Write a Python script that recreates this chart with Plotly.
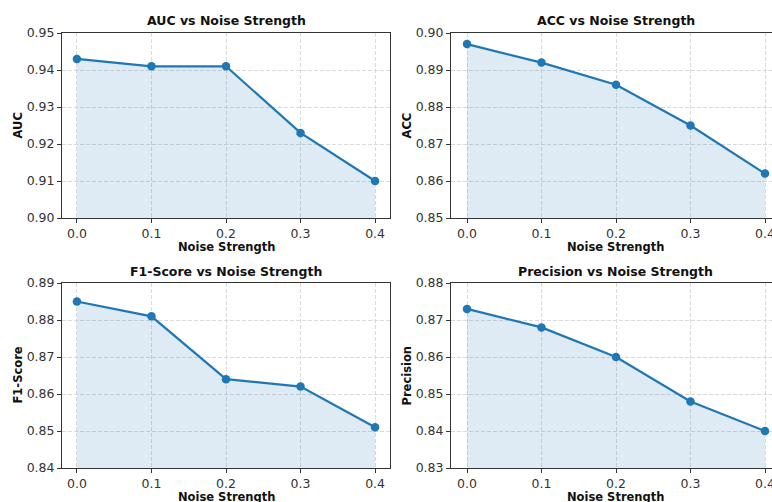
import plotly.graph_objects as go

noise = [0.0, 0.1, 0.2, 0.3, 0.4]
auc = [0.943, 0.941, 0.941, 0.923, 0.910]
acc = [0.897, 0.892, 0.886, 0.875, 0.862]
f1 = [0.885, 0.881, 0.864, 0.862, 0.851]
precision = [0.873, 0.868, 0.860, 0.848, 0.840]

panels = [
    ("AUC", auc, [0.90, 0.95]),
    ("ACC", acc, [0.85, 0.90]),
    ("F1-Score", f1, [0.84, 0.89]),
    ("Precision", precision, [0.83, 0.88]),
]
xticks = [0.0, 0.1, 0.2, 0.3, 0.4]

W, H = 772, 502
# pixel boxes (left, right, top, bottom)
boxes = [
    (62, 390, 33, 218),
    (451, 772, 33, 218),
    (62, 390, 283, 468),
    (451, 772, 283, 468),
]
xranges = [[-0.02, 0.42], [-0.0215, 0.4094], [-0.02, 0.42], [-0.0215, 0.4094]]

LINE = "#1f77b4"
FILL = "rgba(31,119,180,0.15)"
FONT = "DejaVu Sans"

fig = go.Figure()
annotations = []
for i, (name, vals, yr) in enumerate(panels):
    n = i + 1
    xa = "x" if n == 1 else f"x{n}"
    ya = "y" if n == 1 else f"y{n}"
    l, r, t, b = boxes[i]
    fig.add_trace(go.Scatter(
        x=noise, y=[yr[0]] * len(noise), xaxis=xa, yaxis=ya,
        mode="lines", line=dict(width=0, color=FILL), hoverinfo="skip", showlegend=False))
    fig.add_trace(go.Scatter(
        x=noise, y=vals, xaxis=xa, yaxis=ya, mode="lines+markers",
        line=dict(color=LINE, width=2.2), marker=dict(color=LINE, size=8.5),
        fill="tonexty", fillcolor=FILL, showlegend=False))
    right_cut = (r >= W)
    common = dict(showline=True, linecolor="#333", linewidth=1, ticks="outside",
                  ticklen=4, tickcolor="#333", showgrid=True, gridcolor="#dadada",
                  griddash="4px,2px", gridwidth=1, zeroline=False, automargin=False,
                  ticklabeloverflow="allow",
                  tickfont=dict(family=FONT, size=12.5, color="#333"))
    fig.layout[("xaxis" if n == 1 else f"xaxis{n}")] = dict(
        domain=[l / W, r / W], range=xranges[i], anchor=ya,
        tickvals=xticks, ticktext=[f"{v:.1f}" for v in xticks],
        mirror=True, **common)
    fig.layout[("yaxis" if n == 1 else f"yaxis{n}")] = dict(
        domain=[1 - b / H, 1 - t / H], range=yr, anchor=xa,
        dtick=0.01, tickformat=".2f", mirror=(not right_cut), **common)
    cx = (l + (r if not right_cut else r + 8)) / 2
    annotations.append(dict(text=f"<b>{name} vs Noise Strength</b>", x=cx / W, y=1 - (t - 12) / H,
                            xref="paper", yref="paper", showarrow=False,
                            xanchor="center", yanchor="middle",
                            font=dict(family=FONT, size=12.5, color="#111")))
    annotations.append(dict(text="<b>Noise Strength</b>", x=cx / W, y=1 - (b + 29) / H,
                            xref="paper", yref="paper", showarrow=False,
                            xanchor="center", yanchor="middle",
                            font=dict(family=FONT, size=11.5, color="#111")))
    annotations.append(dict(text=f"<b>{name}</b>", x=(l - 45) / W, y=1 - ((t + b) / 2) / H,
                            xref="paper", yref="paper", showarrow=False, textangle=-90,
                            xanchor="center", yanchor="middle",
                            font=dict(family=FONT, size=11.5, color="#111")))

fig.update_layout(width=W, height=H, margin=dict(l=0, r=0, t=0, b=0, autoexpand=False),
                  paper_bgcolor="white", plot_bgcolor="white",
                  annotations=annotations, font=dict(family=FONT))
fig.write_html("out.html", config={"displayModeBar": False},
               post_script="document.body.style.margin='0';document.body.style.padding='0';")
